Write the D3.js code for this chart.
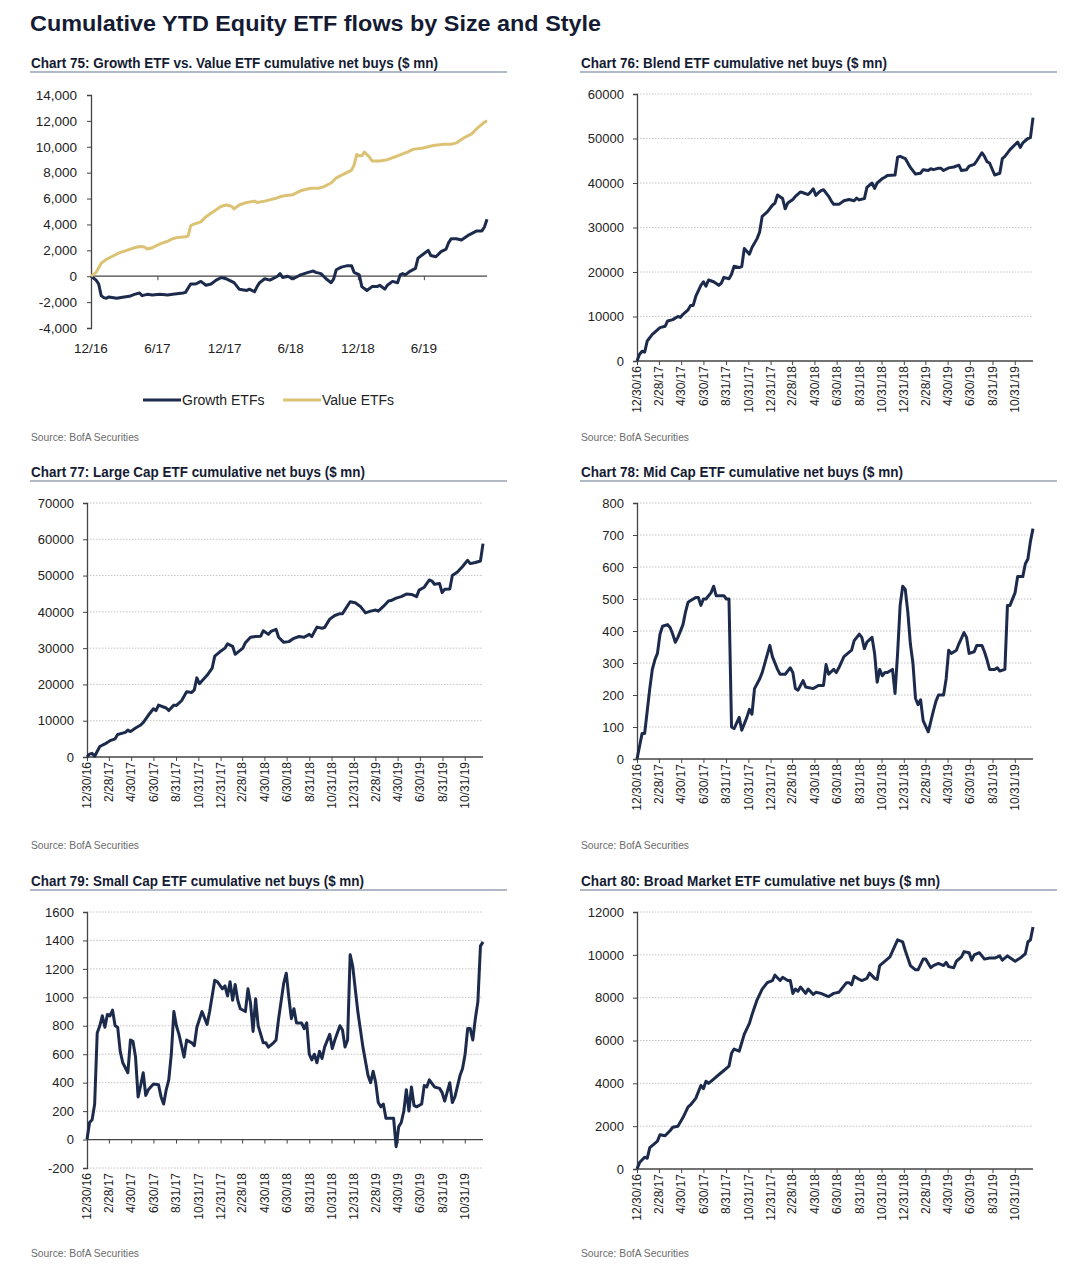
<!DOCTYPE html>
<html>
<head>
<meta charset="utf-8">
<script src="https://cdn.jsdelivr.net/npm/d3@7"></script>
<style>
  body { margin: 0; background: #fff; }
  text { font-family: "Liberation Sans", Arial, sans-serif; }
</style>
</head>
<body>
<div id="chart"></div>
<script>
// weekly data, x = weeks since 12/30/16
const startDate = "2016-12-30";
const lastWeek = 155;

const halfYearTicks = ["2016-12-30", "2017-06-30", "2017-12-31", "2018-06-30", "2018-12-31", "2019-06-30"];
const biMonthTicks = ["2016-12-30", "2017-02-28", "2017-04-30", "2017-06-30", "2017-08-31", "2017-10-31",
    "2017-12-31", "2018-02-28", "2018-04-30", "2018-06-30", "2018-08-31", "2018-10-31",
    "2018-12-31", "2019-02-28", "2019-04-30", "2019-06-30", "2019-08-31", "2019-10-31"];

const growthFlows = [[0,0],[2,-300],[3,-600],[4,-1500],[5,-1650],[6,-1700],[7,-1600],[10,-1700],[13,-1600],[15,-1550],
    [17,-1400],[19,-1300],[20,-1500],[22,-1400],[24,-1450],[27,-1400],[30,-1450],[32,-1400],[36,-1300],[37,-1250],
    [39,-600],[41,-600],[43,-400],[45,-700],[47,-600],[49,-300],[51,-100],[53,-200],[56,-500],[58,-1000],
    [61,-1100],[62,-1000],[64,-1200],[65,-800],[66,-500],[68,-200],[70,-300],[71,-200],[73,0],[74,200],
    [75,-100],[77,0],[79,-200],[81,0],[82,100],[85,300],[87,400],[88,300],[90,200],[92,-200],
    [94,-500],[95,-200],[96,500],[98,700],[100,800],[102,800],[103,300],[105,100],[106,-800],[108,-1100],
    [110,-800],[112,-800],[113,-700],[115,-1000],[116,-700],[118,-400],[120,-500],[121,100],[122,200],[123,100],
    [125,400],[127,600],[128,1400],[130,1700],[132,2000],[133,1600],[135,1500],[137,1900],[139,2100],[140,2600],
    [141,2900],[143,2900],[145,2800],[148,3200],[151,3500],[153,3500],[154,3800],[155,4400]];

const valueFlows = [[0,0],[2,300],[4,1000],[6,1300],[9,1600],[11,1800],[14,2000],[17,2200],[19,2300],[21,2250],
    [22,2100],[24,2200],[27,2500],[30,2700],[32,2900],[34,3000],[37,3050],[38,3100],[39,3900],[40,4000],
    [43,4200],[45,4600],[48,5000],[51,5400],[53,5500],[55,5400],[56,5200],[58,5500],[61,5700],[64,5800],
    [65,5700],[68,5800],[72,6000],[75,6200],[79,6300],[82,6600],[86,6800],[89,6800],[91,6900],[94,7200],
    [96,7600],[102,8200],[103,8600],[104,9400],[105,9300],[106,9300],[107,9600],[109,9200],[110,8900],[113,8900],
    [116,9000],[120,9300],[124,9600],[126,9800],[130,9900],[134,10100],[138,10200],[141,10200],[143,10300],[146,10700],
    [149,11000],[151,11400],[154,11900],[155,12000]];

const blendFlows = [[0,0],[1,1500],[2,2200],[3,2000],[4,4500],[6,6000],[8,7000],[9,7500],[11,7800],[12,9000],
    [14,9300],[16,10000],[17,9800],[18,10500],[20,11500],[21,12500],[22,12500],[23,14500],[25,17000],[26,17800],
    [27,16800],[28,18200],[30,17800],[32,17000],[33,17500],[34,18800],[36,18500],[37,19500],[38,21300],[40,21000],
    [41,21200],[42,25300],[44,24000],[45,25500],[47,27500],[48,29000],[49,32500],[51,33500],[53,35000],[54,35500],
    [55,37300],[57,36500],[58,34200],[59,35500],[61,36300],[62,37000],[64,38000],[65,37800],[67,37400],[68,38000],
    [69,38700],[70,37200],[71,37800],[72,38300],[73,38500],[75,37000],[76,36000],[77,35200],[79,35200],[81,36000],
    [83,36300],[85,36000],[86,36600],[87,36200],[89,36500],[90,39000],[92,40000],[93,38800],[94,40000],[96,41000],
    [97,41300],[98,41700],[101,41800],[102,45800],[103,46000],[105,45500],[107,43500],[109,42000],[111,42200],[112,43000],
    [114,42800],[115,43200],[116,43000],[118,43300],[119,43300],[120,42800],[122,43400],[124,43600],[126,44000],[127,42800],
    [129,43000],[130,43800],[132,44200],[133,45000],[135,46800],[136,46000],[137,44800],[138,44500],[140,41800],[142,42200],
    [143,45500],[144,46000],[146,47500],[149,49200],[150,48000],[151,49000],[153,50000],[154,50200],[155,54700]];

const largeCapFlows = [[0,0],[1,800],[2,1000],[3,200],[5,2900],[7,3600],[9,4500],[11,5000],[12,6200],[15,6800],
    [16,7400],[17,7000],[19,8000],[21,8800],[22,9500],[24,11500],[26,13300],[27,12800],[28,14300],[31,13500],
    [32,12800],[34,14300],[35,14200],[37,15500],[39,18000],[41,17800],[42,18500],[43,21800],[44,20200],[47,22500],
    [49,24500],[50,27800],[52,29000],[54,30000],[55,31200],[57,30500],[58,28300],[61,30000],[62,31500],[64,33000],
    [66,33200],[68,33300],[69,34800],[71,33800],[72,34600],[74,35200],[75,33000],[77,31600],[79,31800],[81,32700],
    [83,33200],[85,33000],[87,33800],[88,33200],[90,35800],[92,35500],[93,35700],[95,38000],[97,39000],[99,39500],
    [100,39500],[103,42800],[105,42500],[107,41500],[109,39700],[111,40200],[113,40500],[114,40200],[116,41500],[118,43000],
    [119,43100],[121,43800],[123,44200],[125,44900],[127,44800],[129,44200],[130,46000],[132,46800],[134,48800],[135,48500],
    [136,47600],[138,47800],[139,45300],[140,46200],[142,46300],[143,50000],[145,51000],[147,52500],[149,54200],[150,53300],
    [152,53600],[154,54000],[155,58800]];

const midCapFlows = [[0,0],[1,40],[2,80],[3,80],[4,150],[5,220],[6,280],[7,310],[8,330],[9,390],
    [10,415],[12,420],[13,410],[14,390],[15,365],[16,380],[18,420],[19,460],[20,490],[21,495],
    [23,505],[24,505],[25,480],[26,500],[27,500],[29,520],[30,540],[31,510],[32,510],[34,510],
    [35,500],[36,500],[37,100],[38,95],[40,130],[41,90],[43,130],[44,155],[45,140],[46,220],
    [48,250],[49,270],[52,355],[53,320],[55,280],[56,265],[58,265],[60,285],[61,270],[62,220],
    [63,215],[65,245],[66,225],[69,220],[71,230],[73,230],[74,295],[75,265],[77,280],[78,270],
    [79,285],[81,320],[84,340],[85,370],[87,390],[88,380],[89,345],[90,365],[92,380],[93,330],
    [94,240],[95,280],[96,260],[97,270],[98,270],[100,280],[101,205],[102,330],[103,480],[104,540],
    [105,530],[106,460],[107,360],[108,300],[109,190],[110,170],[111,185],[112,120],[114,85],[116,150],
    [117,180],[118,200],[120,200],[121,250],[122,340],[123,330],[125,340],[126,360],[128,395],[129,380],
    [130,330],[132,335],[133,355],[135,355],[136,335],[137,310],[138,280],[140,280],[141,285],[142,275],
    [144,280],[145,480],[146,480],[148,520],[149,570],[151,570],[152,610],[153,625],[154,680],[155,720]];

const smallCapFlows = [[0,0],[1,120],[2,140],[3,250],[4,750],[5,800],[6,870],[7,790],[8,880],[9,870],
    [10,910],[11,800],[12,790],[13,620],[14,540],[16,470],[17,700],[18,690],[19,580],[20,300],
    [21,380],[22,470],[23,310],[24,350],[26,390],[28,385],[29,300],[30,250],[31,350],[32,420],
    [33,600],[34,900],[35,800],[36,740],[38,580],[39,700],[41,680],[42,660],[43,790],[45,900],
    [47,810],[48,900],[50,1120],[51,1110],[53,1060],[54,1080],[55,1010],[56,1110],[57,980],[58,1090],
    [59,980],[60,920],[62,900],[63,1060],[64,960],[65,760],[66,990],[67,800],[69,680],[70,680],
    [71,650],[73,680],[74,700],[75,850],[77,1100],[78,1170],[79,1000],[80,850],[81,920],[82,820],
    [84,820],[85,780],[86,820],[87,600],[88,560],[89,600],[90,540],[91,620],[92,570],[93,650],
    [95,740],[96,640],[97,700],[99,800],[100,770],[101,650],[102,700],[103,1300],[104,1220],[106,900],
    [108,650],[110,450],[111,400],[112,480],[113,400],[114,260],[115,230],[116,250],[117,150],[119,150],
    [120,150],[121,-50],[122,90],[123,120],[124,200],[125,350],[126,200],[127,370],[128,240],[129,230],
    [131,250],[132,380],[133,370],[134,420],[136,370],[138,360],[139,330],[140,270],[142,400],[143,260],
    [144,300],[146,450],[147,500],[148,600],[149,780],[150,780],[151,700],[152,850],[153,970],[154,1360],[155,1390]];

const broadFlows = [[0,0],[1,300],[3,550],[4,500],[5,1000],[7,1200],[8,1300],[9,1600],[11,1550],[13,1800],
    [14,1950],[16,2000],[18,2400],[20,2900],[21,3000],[23,3300],[25,3900],[26,3750],[27,4100],[28,4000],
    [30,4200],[32,4400],[34,4600],[36,4800],[37,5400],[38,5600],[40,5500],[42,6300],[44,6800],[45,7200],
    [47,7900],[49,8400],[51,8700],[53,8800],[54,9050],[56,8800],[57,8950],[59,8800],[60,8800],[61,8200],
    [62,8400],[63,8300],[64,8500],[66,8200],[67,8400],[69,8150],[70,8250],[72,8200],[74,8100],[75,8050],
    [77,8200],[79,8250],[80,8400],[82,8700],[83,8700],[84,8600],[85,9000],[87,8850],[88,8800],[90,8900],
    [91,9150],[93,8900],[94,8850],[95,9500],[98,9800],[99,9900],[102,10700],[104,10600],[105,10200],[107,9500],
    [109,9300],[110,9300],[112,9800],[113,9800],[115,9400],[116,9500],[118,9600],[120,9500],[121,9650],[122,9450],
    [124,9400],[125,9700],[127,9900],[128,10150],[130,10100],[131,9750],[132,10000],[134,10100],[135,9950],[136,9800],
    [138,9850],[140,9850],[142,9950],[143,9750],[145,9950],[148,9700],[150,9850],[152,10050],[153,10600],[154,10700],[155,11300]];

const navy = "#1c2a4c";
const gold = "#dcc274";

const W = 1082, H = 1280;
const svg = d3.select("#chart").append("svg")
    .attr("width", W)
    .attr("height", H);

const parseDate = d3.timeParse("%Y-%m-%d");
const t0 = parseDate(startDate);
const weekToDate = w => d3.timeDay.offset(t0, 7 * w);

svg.append("text")
    .attr("x", 30).attr("y", 31)
    .attr("font-size", 22).attr("font-weight", "bold")
    .attr("fill", "#141b33")
    .attr("textLength", 571).attr("lengthAdjust", "spacingAndGlyphs")
    .text("Cumulative YTD Equity ETF flows by Size and Style");

function drawPanel(p) {
    let g = svg.append("g");

    // panel title + rule
    g.append("text")
        .attr("x", p.titleX).attr("y", p.titleY)
        .attr("font-size", 15).attr("font-weight", "bold")
        .attr("fill", "#141b33")
        .attr("textLength", p.titleLen).attr("lengthAdjust", "spacingAndGlyphs")
        .text(p.title);
    g.append("line")
        .attr("x1", p.titleX - 1).attr("x2", p.titleX + 476)
        .attr("y1", p.titleY + 4).attr("y2", p.titleY + 4)
        .attr("stroke", "#97a0b3").attr("stroke-width", 1.3);

    var x = d3.scaleTime()
        .domain([t0, weekToDate(lastWeek)])
        .range([p.left, p.right]);
    var y = d3.scaleLinear()
        .domain(p.yDomain)
        .range([p.bottom, p.top]);
    var yTicks = d3.range(p.yDomain[0], p.yDomain[1] + p.yStep / 2, p.yStep);

    // dotted grid
    if (p.grid) {
        g.selectAll(".grid").data(yTicks.filter(v => v !== 0))
            .enter().append("line")
            .attr("x1", p.left).attr("x2", p.right)
            .attr("y1", d => y(d)).attr("y2", d => y(d))
            .attr("stroke", "#c4c4c4").attr("stroke-width", 1)
            .attr("stroke-dasharray", "1.5,1.5");
    }

    // y axis (hyphen for negatives, like the source)
    g.append("g")
        .attr("transform", "translate(" + p.left + ",0)")
        .call(d3.axisLeft(y).tickValues(yTicks).tickSize(4).tickPadding(p.yPad)
            .tickFormat(d => p.yFormat(d).replace("\u2212", "-")))
        .call(a => a.select(".domain").attr("stroke", "#444").attr("stroke-width", 1.3))
        .call(a => a.selectAll(".tick line").attr("stroke", "#444"))
        .call(a => a.selectAll("text").attr("font-size", p.yFont).attr("fill", "#222")
            .attr("font-family", "'Liberation Sans', Arial, sans-serif"));

    // x axis along zero
    var tickDates = p.xTicks.map(parseDate);
    g.append("g")
        .attr("transform", "translate(0," + y(0) + ")")
        .call(d3.axisBottom(x).tickValues(tickDates).tickSize(4).tickFormat(""))
        .call(a => a.select(".domain").attr("stroke", "#444").attr("stroke-width", 1.3)
            .attr("d", "M" + p.left + ",0H" + p.right))
        .call(a => a.selectAll(".tick line").attr("stroke", "#444"));

    // x labels at the bottom of the plot
    if (p.rotate) {
        g.selectAll(".xl").data(tickDates).enter().append("text")
            .attr("transform", d => "translate(" + x(d) + "," + (p.bottom + 5) + ") rotate(-90)")
            .attr("text-anchor", "end").attr("dy", "0.36em")
            .attr("font-size", 12).attr("fill", "#222")
            .text(d => d3.timeFormat("%-m/%-d/%y")(d));
    } else {
        g.selectAll(".xl").data(tickDates).enter().append("text")
            .attr("x", d => x(d)).attr("y", p.bottom + 25)
            .attr("text-anchor", "middle")
            .attr("font-size", 13.5).attr("fill", "#222")
            .text(d => d3.timeFormat("%-m/%y")(d));
    }

    var line = d3.line()
        .x(d => x(weekToDate(d[0])))
        .y(d => y(d[1]));

    p.series.forEach(function (s) {
        g.append("path")
            .datum(s.data)
            .attr("fill", "none")
            .attr("stroke", s.color)
            .attr("stroke-width", 3)
            .attr("stroke-linejoin", "round")
            .attr("d", line);
    });

    g.append("text")
        .attr("x", p.titleX).attr("y", p.sourceY)
        .attr("font-size", 10.5).attr("fill", "#6b6b6b")
        .attr("textLength", 108).attr("lengthAdjust", "spacingAndGlyphs")
        .text("Source: BofA Securities");
}

const plain = d3.format("d");

drawPanel({
    title: "Chart 75: Growth ETF vs. Value ETF cumulative net buys ($ mn)", titleX: 31, titleY: 68, titleLen: 407,
    left: 91, right: 487, top: 95, bottom: 328, yDomain: [-4000, 14000], yStep: 2000,
    yFormat: d3.format(","), yFont: 13.5, yPad: 10, grid: false, rotate: false, xTicks: halfYearTicks,
    series: [{data: growthFlows, color: navy}, {data: valueFlows, color: gold}], sourceY: 441
});
drawPanel({
    title: "Chart 76: Blend ETF cumulative net buys ($ mn)", titleX: 581, titleY: 68, titleLen: 306,
    left: 637, right: 1033, top: 94, bottom: 361, yDomain: [0, 60000], yStep: 10000,
    yFormat: plain, yFont: 13, yPad: 9, grid: true, rotate: true, xTicks: biMonthTicks,
    series: [{data: blendFlows, color: navy}], sourceY: 441
});
drawPanel({
    title: "Chart 77: Large Cap ETF cumulative net buys ($ mn)", titleX: 31, titleY: 477, titleLen: 334,
    left: 87, right: 483, top: 503, bottom: 757, yDomain: [0, 70000], yStep: 10000,
    yFormat: plain, yFont: 13, yPad: 9, grid: true, rotate: true, xTicks: biMonthTicks,
    series: [{data: largeCapFlows, color: navy}], sourceY: 849
});
drawPanel({
    title: "Chart 78: Mid Cap ETF cumulative net buys ($ mn)", titleX: 581, titleY: 477, titleLen: 322,
    left: 637, right: 1033, top: 503, bottom: 759, yDomain: [0, 800], yStep: 100,
    yFormat: plain, yFont: 13, yPad: 9, grid: true, rotate: true, xTicks: biMonthTicks,
    series: [{data: midCapFlows, color: navy}], sourceY: 849
});
drawPanel({
    title: "Chart 79: Small Cap ETF cumulative net buys ($ mn)", titleX: 31, titleY: 886, titleLen: 333,
    left: 87, right: 483, top: 912, bottom: 1168, yDomain: [-200, 1600], yStep: 200,
    yFormat: plain, yFont: 13, yPad: 9, grid: true, rotate: true, xTicks: biMonthTicks,
    series: [{data: smallCapFlows, color: navy}], sourceY: 1257
});
drawPanel({
    title: "Chart 80: Broad Market ETF cumulative net buys ($ mn)", titleX: 581, titleY: 886, titleLen: 359,
    left: 637, right: 1033, top: 912, bottom: 1169, yDomain: [0, 12000], yStep: 2000,
    yFormat: plain, yFont: 13, yPad: 9, grid: true, rotate: true, xTicks: biMonthTicks,
    series: [{data: broadFlows, color: navy}], sourceY: 1257
});

// legend for chart 75
const legendItems = [
    {label: "Growth ETFs", color: navy, x: 143},
    {label: "Value ETFs", color: gold, x: 283}
];
legendItems.forEach(function (d) {
    svg.append("line")
        .attr("x1", d.x).attr("x2", d.x + 38)
        .attr("y1", 400).attr("y2", 400)
        .attr("stroke", d.color).attr("stroke-width", 3);
    svg.append("text")
        .attr("x", d.x + 39).attr("y", 405)
        .attr("font-size", 14).attr("fill", "#222")
        .text(d.label);
});
</script>
</body>
</html>
